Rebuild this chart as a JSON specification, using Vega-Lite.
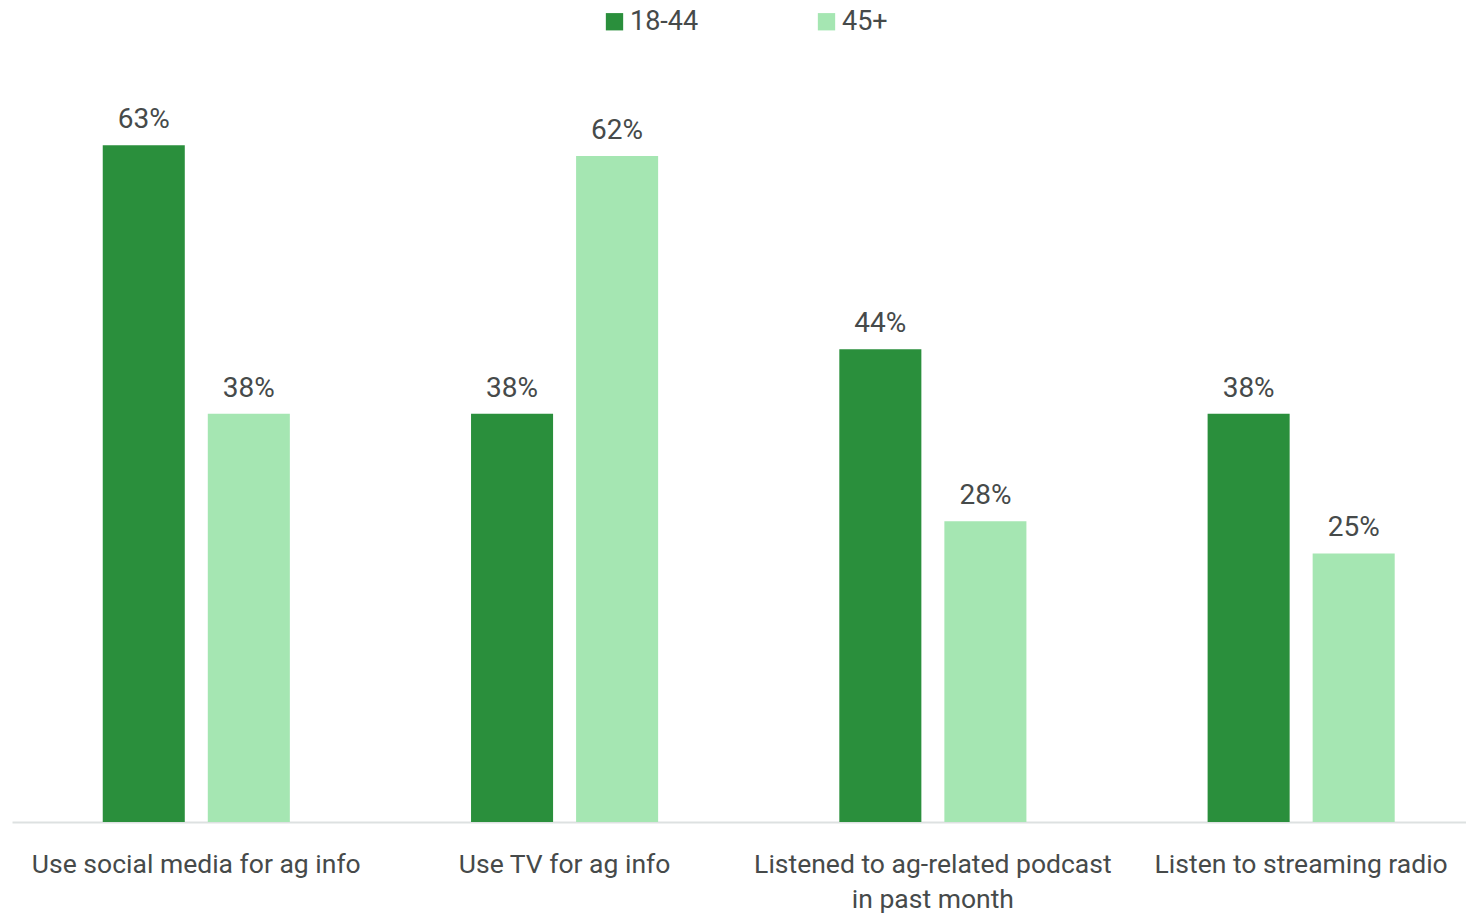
{
  "$schema": "https://vega.github.io/schema/vega-lite/v6.json",
  "width": 1454,
  "height": 752,
  "autosize": {"type": "none"},
  "padding": {"left": 12, "top": 70, "right": 0, "bottom": 93},
  "background": "white",
  "config": {
    "view": {"stroke": null},
    "font": "Roboto"
  },
  "data": {
    "values": [
      {"category": "Use social media for ag info", "group": "18-44", "value": 63},
      {"category": "Use social media for ag info", "group": "45+", "value": 38},
      {"category": "Use TV for ag info", "group": "18-44", "value": 38},
      {"category": "Use TV for ag info", "group": "45+", "value": 62},
      {"category": "Listened to ag-related podcast in past month", "group": "18-44", "value": 44},
      {"category": "Listened to ag-related podcast in past month", "group": "45+", "value": 28},
      {"category": "Listen to streaming radio", "group": "18-44", "value": 38},
      {"category": "Listen to streaming radio", "group": "45+", "value": 25}
    ]
  },
  "encoding": {
    "x": {
      "field": "category",
      "type": "nominal",
      "sort": null,
      "scale": {"paddingInner": 0.492, "paddingOuter": 0.22, "align": 0.56},
      "axis": {
        "title": null,
        "labelAngle": 0,
        "labelFont": "Roboto",
        "labelFontSize": 26.5,
        "labelColor": "#464a4a",
        "labelPadding": 29,
        "labelLineHeight": 35,
        "labelLimit": 500,
        "ticks": false,
        "domainColor": "#dde1e1",
        "domainWidth": 2,
        "labelExpr": "datum.label == 'Listened to ag-related podcast in past month' ? ['Listened to ag-related podcast', 'in past month'] : datum.label"
      }
    },
    "xOffset": {
      "field": "group",
      "type": "nominal",
      "scale": {"paddingInner": 0.219, "paddingOuter": 0}
    },
    "y": {
      "field": "value",
      "type": "quantitative",
      "scale": {"domain": [0, 70]},
      "axis": null
    }
  },
  "layer": [
    {
      "mark": {"type": "bar"},
      "encoding": {
        "color": {
          "field": "group",
          "type": "nominal",
          "scale": {"domain": ["18-44", "45+"], "range": ["#2a8f3c", "#a5e6b2"]},
          "legend": {
            "title": null,
            "orient": "none",
            "direction": "horizontal",
            "legendX": 589,
            "legendY": -62,
            "symbolType": "square",
            "symbolSize": 300,
            "symbolStrokeWidth": 0,
            "labelFont": "Roboto",
            "labelFontSize": 27,
            "labelColor": "#464a4a",
            "labelOffset": 2,
            "columnPadding": 114
          }
        }
      }
    },
    {
      "mark": {
        "type": "text",
        "baseline": "alphabetic",
        "dy": -17,
        "font": "Roboto",
        "fontSize": 28,
        "color": "#464a4a",
        "text": {"expr": "datum.value + '%'"}
      },
      "encoding": {
        "detail": {"field": "group"}
      }
    }
  ]
}
